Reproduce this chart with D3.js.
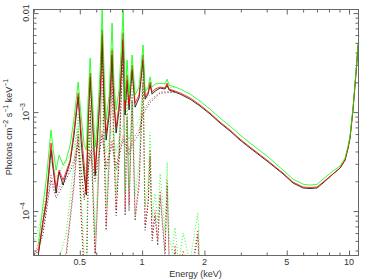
<!DOCTYPE html>
<html>
<head>
<meta charset="utf-8">
<script src="https://cdn.jsdelivr.net/npm/d3@7"></script>
<style>
  body { margin: 0; background: #fff; }
  text { font-family: "Liberation Sans", Arial, sans-serif; fill: #333; }
</style>
</head>
<body>
<div id="plot"></div>
<script>
// Model spectra (keV, photons cm^-2 s^-1 keV^-1), one model per data group
var energy = [0.315, 0.332, 0.344, 0.363, 0.372, 0.384, 0.397, 0.415, 0.429, 0.449,
	0.469, 0.491, 0.507, 0.525, 0.538, 0.548, 0.561, 0.574, 0.593, 0.606,
	0.627, 0.641, 0.655, 0.670, 0.693, 0.716, 0.732, 0.749, 0.774, 0.792,
	0.810, 0.828, 0.846, 0.865, 0.895, 0.925, 0.967, 1.011, 1.034, 1.069,
	1.093, 1.118, 1.155, 1.222, 1.291, 1.321, 1.350, 1.443, 1.526, 1.706,
	1.906, 2.131, 2.382, 2.662, 2.975, 3.325, 4.017, 4.800, 5.364, 5.996,
	6.480, 7.004, 7.487, 8.368, 9.048, 9.565, 9.890, 10.11, 10.45, 10.69,
	10.93, 11.05];
var modelBlack = [3.6e-5, 7.75e-5, 1.20e-4, 4.13e-4, 2.59e-4, 1.52e-4, 2.48e-4, 1.83e-4, 2.31e-4, 3.13e-4,
	5.86e-4, 1.42e-3, 5.21e-4, 2.31e-4, 1.45e-4, 7.39e-4, 2.26e-3, 9.33e-4, 2.31e-4, 4.64e-4,
	1.49e-3, 6.0e-3, 1.32e-3, 5.21e-4, 9.33e-4, 3.77e-3, 1.18e-3, 6.14e-4, 1.05e-3, 2.37e-3,
	5.34e-3, 9.33e-4, 2.10e-3, 1.05e-3, 2.66e-3, 1.12e-3, 1.39e-3, 3.35e-3, 1.35e-3, 1.52e-3,
	1.87e-3, 1.52e-3, 1.63e-3, 1.75e-3, 1.71e-3, 1.87e-3, 1.67e-3, 1.59e-3, 1.52e-3, 1.35e-3,
	1.15e-3, 9.55e-4, 7.74e-4, 6.43e-4, 5.21e-4, 4.33e-4, 3.20e-4, 2.37e-4, 1.92e-4, 1.71e-4,
	1.69e-4, 1.71e-4, 1.92e-4, 2.37e-4, 2.72e-4, 3.27e-4, 4.33e-4, 5.46e-4, 1.05e-3, 1.87e-3,
	3.35e-3, 4.75e-3];
var modelRed = [3.77e-5, 8.1e-5, 1.29e-4, 4.86e-4, 2.92e-4, 1.71e-4, 2.59e-4, 2.05e-4, 2.48e-4, 3.27e-4,
	6.58e-4, 1.56e-3, 6.58e-4, 2.92e-4, 1.52e-4, 8.30e-4, 2.48e-3, 1.05e-3, 2.59e-4, 5.21e-4,
	1.67e-3, 6.73e-3, 1.67e-3, 6.14e-4, 1.05e-3, 4.23e-3, 1.32e-3, 7.05e-4, 1.18e-3, 2.66e-3,
	6.30e-3, 1.05e-3, 2.37e-3, 1.18e-3, 2.99e-3, 1.23e-3, 1.49e-3, 3.77e-3, 1.42e-3, 1.59e-3,
	2.01e-3, 1.59e-3, 1.71e-3, 1.79e-3, 1.75e-3, 1.96e-3, 1.71e-3, 1.63e-3, 1.56e-3, 1.39e-3,
	1.18e-3, 9.77e-4, 7.92e-4, 6.58e-4, 5.34e-4, 4.43e-4, 3.27e-4, 2.42e-4, 1.96e-4, 1.75e-4,
	1.73e-4, 1.75e-4, 1.96e-4, 2.37e-4, 2.72e-4, 3.27e-4, 4.33e-4, 5.46e-4, 1.05e-3, 1.87e-3,
	3.35e-3, 4.75e-3];
var modelGreen = [4.54e-5, 1.15e-4, 2.05e-4, 6.58e-4, 4.13e-4, 2.59e-4, 3.68e-4, 2.92e-4, 3.27e-4, 4.64e-4,
	8.70e-4, 2.01e-3, 9.33e-4, 4.64e-4, 4.13e-4, 1.32e-3, 3.51e-3, 1.49e-3, 4.43e-4, 7.39e-4,
	2.66e-3, 1.10e-2, 2.66e-3, 8.30e-4, 1.49e-3, 7.92e-3, 1.87e-3, 1.05e-3, 1.67e-3, 4.23e-3,
	1.07e-2, 1.32e-3, 3.35e-3, 1.49e-3, 3.77e-3, 1.49e-3, 1.79e-3, 4.75e-3, 1.59e-3, 1.79e-3,
	2.26e-3, 1.79e-3, 1.92e-3, 1.96e-3, 1.92e-3, 2.15e-3, 1.87e-3, 1.79e-3, 1.71e-3, 1.52e-3,
	1.29e-3, 1.07e-3, 8.70e-4, 7.22e-4, 5.86e-4, 4.86e-4, 3.59e-4, 2.59e-4, 2.10e-4, 1.87e-4,
	1.83e-4, 1.86e-4, 2.10e-4, 2.54e-4, 2.85e-4, 3.43e-4, 4.53e-4, 5.72e-4, 1.10e-3, 1.96e-3,
	3.51e-3, 4.98e-3];

// Hot component (dotted)
var hotEnergy = [0.297, 0.332, 0.363, 0.384, 0.429, 0.469, 0.491, 0.525, 0.561, 0.593,
	0.641, 0.670, 0.716, 0.749, 0.810, 0.865, 0.895, 0.967, 1.011, 1.093, 1.222, 1.443];
var hotBlack = [2.9e-5, 5.8e-5, 2.05e-4, 1.35e-4, 2.1e-4, 3.0e-4, 4.7e-4, 1.3e-4, 3.7e-4, 2.0e-4,
	5.9e-4, 2.6e-4, 4.7e-4, 2.6e-4, 5.3e-4, 3.7e-4, 4.7e-4, 6.0e-4, 9.6e-4, 1.25e-3, 1.55e-3, 1.59e-3];
var hotRed = [3.2e-5, 6.43e-5, 2.31e-4, 1.5e-4, 2.31e-4, 3.27e-4, 5.21e-4, 1.4e-4, 4.13e-4, 2.2e-4,
	6.58e-4, 2.92e-4, 5.21e-4, 2.92e-4, 5.86e-4, 4.13e-4, 5.21e-4, 6.58e-4, 1.05e-3, 1.32e-3, 1.59e-3, 1.63e-3];
var hotGreen = [4.5e-5, 9.5e-5, 3.2e-4, 2.2e-4, 3.1e-4, 4.4e-4, 7.0e-4, 2.1e-4, 5.6e-4, 3.2e-4,
	8.8e-4, 3.9e-4, 6.8e-4, 3.9e-4, 7.6e-4, 5.3e-4, 6.6e-4, 8.2e-4, 1.25e-3, 1.5e-3, 1.75e-3, 1.79e-3];

// Cool, line dominated component (dotted)
var coolEnergy = [0.390, 0.429, 0.449, 0.469, 0.491, 0.507, 0.525, 0.538, 0.548, 0.561,
	0.574, 0.593, 0.606, 0.627, 0.641, 0.655, 0.670, 0.693, 0.716, 0.732,
	0.749, 0.774, 0.792, 0.810, 0.828, 0.846, 0.865, 0.895, 0.925, 0.967,
	1.011, 1.034, 1.069, 1.093, 1.118, 1.155, 1.190, 1.222, 1.291, 1.321,
	1.350, 1.400, 1.443, 1.500, 1.580, 1.700, 1.860, 1.900];
var coolBlack = [1.8e-5, 3.3e-5, 8.0e-5, 1.8e-4, 5.8e-4, 9.0e-5, 2.2e-5, 1.8e-5, 1.8e-4, 1.05e-3,
	2.3e-4, 3.3e-5, 9.0e-5, 5.8e-4, 4.2e-3, 4.6e-4, 6.4e-5, 2.9e-4, 2.35e-3, 3.6e-4,
	9.0e-5, 3.2e-4, 1.3e-3, 3.7e-3, 9.0e-5, 8.6e-4, 1.0e-4, 1.3e-3, 8.0e-5, 1.8e-4,
	2.0e-3, 6.4e-5, 1.15e-4, 3.6e-4, 5.0e-5, 9.0e-5, 4.5e-5, 1.4e-4, 3.5e-5, 1.8e-4,
	3.3e-5, 2.2e-5, 4.0e-5, 1.8e-5, 3.5e-5, 1.8e-5, 5.7e-5, 1.8e-5];
var coolRed = [2.0e-5, 3.77e-5, 9.12e-5, 2.05e-4, 6.58e-4, 1.02e-4, 2.5e-5, 2.0e-5, 2.05e-4, 1.18e-3,
	2.59e-4, 3.77e-5, 1.0e-4, 6.58e-4, 4.75e-3, 5.21e-4, 7.22e-5, 3.27e-4, 2.66e-3, 4.13e-4,
	1.02e-4, 3.68e-4, 1.49e-3, 4.23e-3, 1.02e-4, 9.77e-4, 1.15e-4, 1.49e-3, 9.12e-5, 2.05e-4,
	2.26e-3, 7.22e-5, 1.29e-4, 4.13e-4, 5.73e-5, 1.02e-4, 5.1e-5, 1.6e-4, 4.0e-5, 2.05e-4,
	3.77e-5, 2.5e-5, 4.5e-5, 2.0e-5, 4.0e-5, 2.0e-5, 6.43e-5, 2.0e-5];
var coolGreen = [3.0e-5, 5.7e-5, 1.4e-4, 3.1e-4, 9.8e-4, 1.5e-4, 3.8e-5, 3.0e-5, 3.1e-4, 1.75e-3,
	3.9e-4, 5.7e-5, 1.5e-4, 9.8e-4, 7.0e-3, 7.8e-4, 1.1e-4, 4.9e-4, 4.5e-3, 6.2e-4,
	1.5e-4, 5.5e-4, 2.2e-3, 7.0e-3, 1.5e-4, 1.45e-3, 1.7e-4, 2.2e-3, 1.4e-4, 3.1e-4,
	3.3e-3, 1.1e-4, 1.9e-4, 6.2e-4, 8.6e-5, 1.5e-4, 7.7e-5, 2.4e-4, 6.0e-5, 3.1e-4,
	5.7e-5, 3.8e-5, 6.8e-5, 3.0e-5, 6.0e-5, 3.0e-5, 9.6e-5, 3.0e-5];

// Axis ticks
var xMinorTicks = [0.3, 0.4, 0.6, 0.7, 0.8, 0.9, 3, 4, 6, 7, 8, 9];
var xMajorTicks = [0.5, 1, 2, 5, 10];
var xTickLabels = ["0.5", "1", "2", "5", "10"];
var yMajorTicks = [1e-4, 1e-3, 1e-2];
var yMinorTicks = [4e-5, 5e-5, 6e-5, 7e-5, 8e-5, 9e-5, 2e-4, 3e-4, 4e-4, 5e-4, 6e-4, 7e-4, 8e-4, 9e-4,
	2e-3, 3e-3, 4e-3, 5e-3, 6e-3, 7e-3, 8e-3, 9e-3];

// Set the dimensions and margins of the graph
var W = 382, H = 279;
var margin = {top: 9, right: 24, bottom: 24, left: 33},
	width = W - margin.left - margin.right,
	height = H - margin.top - margin.bottom;

var svg = d3.select("#plot")
	.append("svg")
	.attr("width", W)
	.attr("height", H);

var x = d3.scaleLog().domain([0.297, 11.05]).range([margin.left, margin.left + width]);
var y = d3.scaleLog().domain([3.6e-5, 0.011]).range([margin.top + height, margin.top]);

svg.append("clipPath").attr("id", "clip")
	.append("rect")
	.attr("x", margin.left).attr("y", margin.top)
	.attr("width", width).attr("height", height);

function zip(es, vs){
	return es.map(function(e, i){ return {e: e, v: vs[i]}; });
}

var line = d3.line()
	.x(function(d){ return x(d.e); })
	.y(function(d){ return y(d.v); });

var plot = svg.append("g").attr("clip-path", "url(#clip)");

// Dotted model components
var comps = [
	{e: hotEnergy, v: hotBlack, c: "#000000"},
	{e: coolEnergy, v: coolBlack, c: "#000000"},
	{e: hotEnergy, v: hotRed, c: "#ff0000"},
	{e: coolEnergy, v: coolRed, c: "#ff0000"},
	{e: hotEnergy, v: hotGreen, c: "#00ff00"},
	{e: coolEnergy, v: coolGreen, c: "#00ff00"}
];
comps.forEach(function(s){
	plot.append("path")
		.datum(zip(s.e, s.v))
		.attr("d", line)
		.attr("fill", "none")
		.attr("stroke", s.c)
		.attr("stroke-width", 0.8)
		.attr("stroke-dasharray", "1,2");
});

// Total models
var models = [
	{v: modelBlack, c: "#000000"},
	{v: modelRed, c: "#ff0000"},
	{v: modelGreen, c: "#00ff00"}
];
models.forEach(function(s){
	plot.append("path")
		.datum(zip(energy, s.v))
		.attr("d", line)
		.attr("fill", "none")
		.attr("stroke", s.c)
		.attr("stroke-width", 0.8);
});

// Frame
svg.append("rect")
	.attr("x", margin.left + 0.5).attr("y", margin.top + 0.5)
	.attr("width", width).attr("height", height)
	.attr("fill", "none")
	.attr("stroke", "#666");

// Ticks on all four sides, pointing inward
function ticks(axis, vals, size, tr){
	var g = svg.append("g")
		.attr("transform", tr)
		.call(axis.tickValues(vals).tickSize(-size).tickFormat(""));
	g.select(".domain").remove();
	g.selectAll("line").attr("stroke", "#666");
	return g;
}
var bottomY = margin.top + height + 0.5, rightX = margin.left + width + 0.5;
ticks(d3.axisBottom(x), xMinorTicks, 3, "translate(0," + bottomY + ")");
ticks(d3.axisBottom(x), xMajorTicks, 5, "translate(0," + bottomY + ")");
ticks(d3.axisTop(x), xMinorTicks, 3, "translate(0," + (margin.top + 0.5) + ")");
ticks(d3.axisTop(x), xMajorTicks, 5, "translate(0," + (margin.top + 0.5) + ")");
ticks(d3.axisLeft(y), yMinorTicks, 3, "translate(" + (margin.left + 0.5) + ",0)");
ticks(d3.axisLeft(y), yMajorTicks, 5, "translate(" + (margin.left + 0.5) + ",0)");
ticks(d3.axisRight(y), yMinorTicks, 3, "translate(" + rightX + ",0)");
ticks(d3.axisRight(y), yMajorTicks, 5, "translate(" + rightX + ",0)");

// X tick labels
svg.selectAll(".xlab")
	.data(xMajorTicks).enter()
	.append("text")
	.attr("x", function(d){ return x(d); })
	.attr("y", 265)
	.attr("text-anchor", "middle")
	.style("font-size", "9px")
	.text(function(d, i){ return xTickLabels[i]; });

// Y tick labels, rotated
yMajorTicks.forEach(function(d){
	var t = svg.append("text")
		.attr("transform", "translate(29," + y(d) + ") rotate(-90)")
		.attr("text-anchor", "middle")
		.style("font-size", "9px");
	if (d === 1e-2) {
		t.text("0.01");
	} else {
		t.append("tspan").text("10");
		t.append("tspan").attr("dy", -4).style("font-size", "7px").text("\u2212" + (-Math.round(Math.log10(d))));
	}
});

// Axis titles
svg.append("text")
	.attr("x", margin.left + width / 2)
	.attr("y", 277)
	.attr("text-anchor", "middle")
	.style("font-size", "9px")
	.text("Energy (keV)");

var yt = svg.append("text")
	.attr("transform", "translate(12,127) rotate(-90)")
	.attr("text-anchor", "middle")
	.style("font-size", "9px");
yt.append("tspan").text("Photons cm");
yt.append("tspan").attr("dy", -4).style("font-size", "7px").text("\u22122");
yt.append("tspan").attr("dy", 4).text(" s");
yt.append("tspan").attr("dy", -4).style("font-size", "7px").text("\u22121");
yt.append("tspan").attr("dy", 4).text(" keV");
yt.append("tspan").attr("dy", -4).style("font-size", "7px").text("\u22121");
</script>
</body>
</html>
